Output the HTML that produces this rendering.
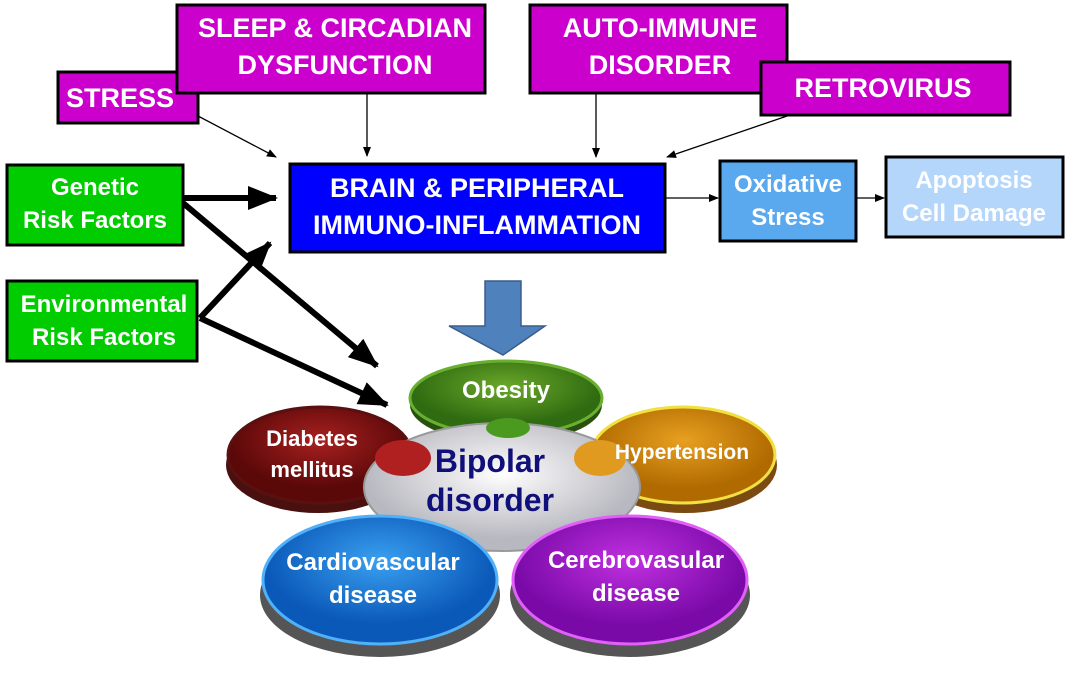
<!DOCTYPE html>
<html><head><meta charset="utf-8"><style>
body{margin:0;background:#fff;}
svg text{font-family:"Liberation Sans",sans-serif;font-weight:bold;}
</style></head><body>
<svg width="1069" height="677" viewBox="0 0 1069 677" xmlns="http://www.w3.org/2000/svg">
<defs>
<marker id="a" markerWidth="10" markerHeight="10" refX="9" refY="5" orient="auto" markerUnits="userSpaceOnUse"><path d="M0,1 L10,5 L0,9 z" fill="#000"/></marker>
<marker id="b" markerWidth="30" markerHeight="30" refX="28" refY="15" orient="auto" markerUnits="userSpaceOnUse"><path d="M0,3 L30,15 L0,27 z" fill="#000"/></marker>
<radialGradient id="gG" cx="0.5" cy="0.35"><stop offset="0" stop-color="#6aa82a"/><stop offset="1" stop-color="#2f6b10"/></radialGradient>
<radialGradient id="gR" cx="0.5" cy="0.35"><stop offset="0" stop-color="#a82020"/><stop offset="1" stop-color="#5a0808"/></radialGradient>
<radialGradient id="gO" cx="0.5" cy="0.35"><stop offset="0" stop-color="#e8a020"/><stop offset="1" stop-color="#b06a00"/></radialGradient>
<radialGradient id="gB" cx="0.5" cy="0.35"><stop offset="0" stop-color="#3aa0f0"/><stop offset="1" stop-color="#0a58b8"/></radialGradient>
<radialGradient id="gP" cx="0.5" cy="0.35"><stop offset="0" stop-color="#c030e0"/><stop offset="1" stop-color="#7a0aa8"/></radialGradient>
<radialGradient id="gS" cx="0.5" cy="0.4"><stop offset="0" stop-color="#ffffff"/><stop offset="1" stop-color="#b8b8c0"/></radialGradient>
</defs>
<g stroke="#000" stroke-width="3">
<rect x="58" y="72" width="140" height="51" fill="#cc00cc"/>
<rect x="177" y="5" width="308" height="88" fill="#cc00cc"/>
<rect x="530" y="5" width="257" height="88" fill="#cc00cc"/>
<rect x="761" y="62" width="249" height="53" fill="#cc00cc"/>
<rect x="7" y="165" width="176" height="80" fill="#00cc00"/>
<rect x="7" y="281" width="190" height="80" fill="#00cc00"/>
<rect x="290" y="164" width="375" height="88" fill="#0000ff"/>
<rect x="720" y="161" width="136" height="80" fill="#5aa8ee"/>
<rect x="886" y="157" width="177" height="80" fill="#b4d6fa"/>
</g>
<g fill="#fff" text-anchor="middle" font-size="27">
<text x="120" y="107">STRESS</text>
<text x="335" y="37">SLEEP &amp; CIRCADIAN</text>
<text x="335" y="74">DYSFUNCTION</text>
<text x="660" y="37">AUTO-IMMUNE</text>
<text x="660" y="74">DISORDER</text>
<text x="883" y="97">RETROVIRUS</text>
<text x="477" y="197">BRAIN &amp; PERIPHERAL</text>
<text x="477" y="234">IMMUNO-INFLAMMATION</text>
<g font-size="24"><text x="95" y="195">Genetic</text><text x="95" y="228">Risk Factors</text>
<text x="104" y="312">Environmental</text><text x="104" y="345">Risk Factors</text>
<text x="788" y="192">Oxidative</text><text x="788" y="225">Stress</text>
<text x="974" y="188">Apoptosis</text><text x="974" y="221">Cell Damage</text></g>
</g>
<g stroke="#000" stroke-width="1.3" fill="none" marker-end="url(#a)">
<line x1="198" y1="116" x2="276" y2="157"/>
<line x1="367" y1="93" x2="367" y2="156"/>
<line x1="596" y1="93" x2="596" y2="157"/>
<line x1="790" y1="115" x2="667" y2="157"/>
<line x1="665" y1="198" x2="718" y2="198"/>
<line x1="856" y1="198" x2="884" y2="198"/>
</g>
<g stroke="#000" stroke-width="6" fill="none" marker-end="url(#b)">
<line x1="183" y1="198" x2="276" y2="198"/>
<line x1="183" y1="203" x2="377" y2="366"/>
<line x1="200" y1="318" x2="270" y2="243"/>
<line x1="200" y1="318" x2="387" y2="405"/>
</g>
<path d="M485,281 H521 V326 H545 L503,355 L449,326 H485 Z" fill="#4f81bd" stroke="#385d8a" stroke-width="1.5"/>
<g>
<ellipse cx="380" cy="595" rx="120" ry="62" fill="#555"/>
<ellipse cx="630" cy="595" rx="120" ry="62" fill="#555"/>
<ellipse cx="318" cy="465" rx="92" ry="48" fill="#4a1010"/>
<ellipse cx="685" cy="465" rx="92" ry="48" fill="#7a4a10"/>
<ellipse cx="506" cy="405" rx="96" ry="38" fill="#2a5010"/>
<ellipse cx="506" cy="398" rx="96" ry="37" fill="url(#gG)" stroke="#6ab030" stroke-width="3"/>
<ellipse cx="320" cy="455" rx="92" ry="48" fill="url(#gR)" stroke="#5a1010" stroke-width="3"/>
<ellipse cx="683" cy="455" rx="92" ry="48" fill="url(#gO)" stroke="#f0e040" stroke-width="3"/>
<ellipse cx="502" cy="487" rx="138" ry="64" fill="url(#gS)" stroke="#999" stroke-width="2"/>
<ellipse cx="380" cy="580" rx="117" ry="64" fill="url(#gB)" stroke="#50b0f8" stroke-width="3"/>
<ellipse cx="630" cy="580" rx="117" ry="64" fill="url(#gP)" stroke="#e060f8" stroke-width="3"/>
<ellipse cx="508" cy="428" rx="22" ry="10" fill="#4a9a20"/>
<ellipse cx="403" cy="458" rx="28" ry="18" fill="#b02020"/>
<ellipse cx="600" cy="458" rx="26" ry="18" fill="#e09a20"/>
</g>
<g fill="#fff" text-anchor="middle" font-size="24">
<text x="506" y="398">Obesity</text>
<text x="312" y="446" font-size="22">Diabetes</text>
<text x="312" y="477" font-size="22">mellitus</text>
<text x="682" y="459" font-size="21">Hypertension</text>
<text x="373" y="570">Cardiovascular</text>
<text x="373" y="603">disease</text>
<text x="636" y="568">Cerebrovasular</text>
<text x="636" y="601">disease</text>
</g>
<g fill="#10107a" text-anchor="middle" font-size="32">
<text x="490" y="472">Bipolar</text>
<text x="490" y="511">disorder</text>
</g>
</svg>
</body></html>
